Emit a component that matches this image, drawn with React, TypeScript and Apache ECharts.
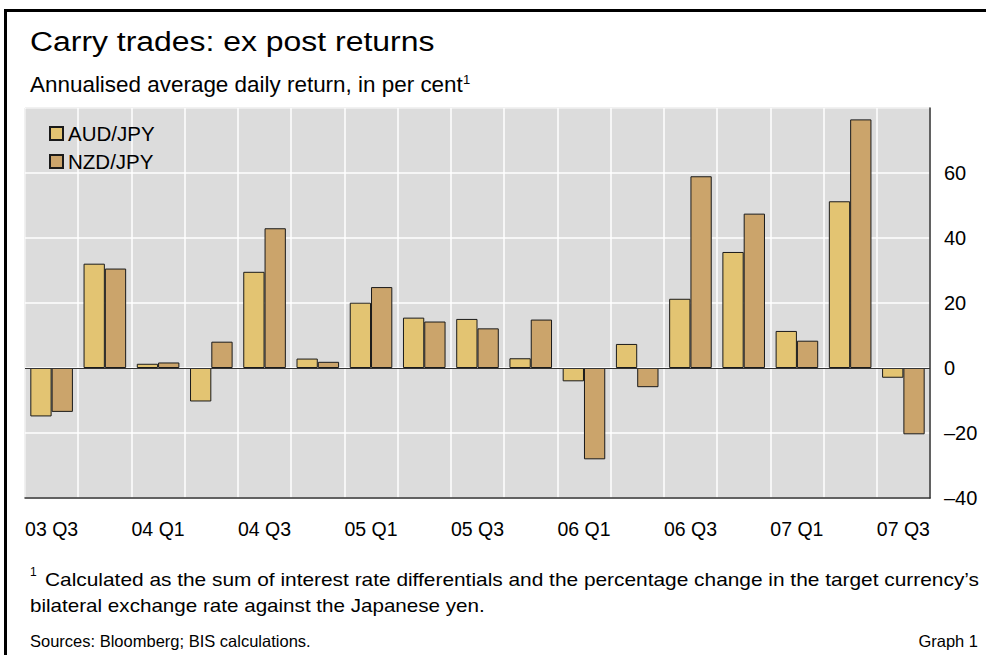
import React, { useEffect, useRef } from "react";
import * as echarts from "echarts";

const categories = [
  "03 Q3", "03 Q4", "04 Q1", "04 Q2", "04 Q3", "04 Q4", "05 Q1", "05 Q2", "05 Q3",
  "05 Q4", "06 Q1", "06 Q2", "06 Q3", "06 Q4", "07 Q1", "07 Q2", "07 Q3",
];
const audJpy = [-14.9, 32.1, 1.3, -10.3, 29.6, 2.9, 20.1, 15.5, 15.1, 3.0, -4.1, 7.4, 21.3, 35.7, 11.4, 51.3, -3.0];
const nzdJpy = [-13.5, 30.6, 1.7, 8.1, 43.0, 1.9, 24.9, 14.3, 12.2, 14.9, -28.1, -5.9, 59.0, 47.5, 8.4, 76.5, -20.4];
const yMin = -40;
const yMax = 80;
const yInterval = 20;

const FONT = "Arial, 'Liberation Sans', Helvetica, sans-serif";

export default function App() {
  const ref = useRef<HTMLDivElement>(null);
  useEffect(() => {
    if (!ref.current) return;
    const chart = echarts.init(ref.current, undefined, { renderer: "svg" });
    chart.setOption({
      animation: false,
      backgroundColor: "#ffffff",
      textStyle: { fontFamily: FONT },
      grid: {
        left: 25,
        top: 108,
        right: 56,
        bottom: 157,
        show: true,
        backgroundColor: "#dcdcdc",
        borderColor: "#8a8a8a",
        borderWidth: 1,
      },
      legend: {
        orient: "vertical",
        left: 44,
        top: 118,
        itemWidth: 13,
        itemHeight: 13,
        itemGap: 7,
        icon: "rect",
        textStyle: { fontFamily: FONT, fontSize: 20.5, color: "#000" },
        data: ["AUD/JPY", "NZD/JPY"],
      },
      xAxis: {
        type: "category",
        data: categories,
        boundaryGap: true,
        axisLine: { show: true, onZero: false, lineStyle: { color: "#333", width: 1.5 } },
        axisTick: { show: false },
        axisLabel: { interval: 1, margin: 21, fontSize: 19.5, color: "#000", fontFamily: FONT },
        splitLine: { show: true, interval: 0, lineStyle: { color: "#ffffff", width: 1.5 } },
      },
      yAxis: {
        type: "value",
        position: "right",
        min: yMin,
        max: yMax,
        interval: yInterval,
        axisLine: { show: true, lineStyle: { color: "#333", width: 1.5 } },
        axisTick: { show: false },
        axisLabel: {
          margin: 14,
          fontSize: 20,
          color: "#000",
          fontFamily: FONT,
          formatter: (v: number) => (v === yMax ? "" : String(v).replace("-", "\u2013")),
        },
        splitLine: { show: true, lineStyle: { color: "#ffffff", width: 1.5 } },
      },
      series: [
        {
          name: "AUD/JPY",
          type: "bar",
          data: audJpy,
          barGap: "0%",
          barCategoryGap: "20%",
          itemStyle: { color: "#e3c472", borderColor: "#1a1a1a", borderWidth: 1 },
          markLine: {
            silent: true,
            symbol: "none",
            label: { show: false },
            lineStyle: { color: "#333", width: 1.2, type: "solid" },
            data: [{ yAxis: 0 }],
          },
        },
        {
          name: "NZD/JPY",
          type: "bar",
          data: nzdJpy,
          barGap: "0%",
          barCategoryGap: "20%",
          itemStyle: { color: "#cba46b", borderColor: "#1a1a1a", borderWidth: 1 },
        },
      ],
      graphic: [
        {
          type: "rect",
          shape: { x: 5.5, y: 10.5, width: 1000, height: 700 },
          style: { fill: "none", stroke: "#000", lineWidth: 3 },
          silent: true,
        },
        {
          type: "text",
          x: 30,
          y: 41,
          scaleX: 1.14,
          style: { text: "Carry trades: ex post returns", fontSize: 28, fontFamily: FONT, fill: "#000", verticalAlign: "middle" },
        },
        {
          type: "text",
          x: 30,
          y: 85,
          scaleX: 1.02,
          style: { text: "Annualised average daily return, in per cent", fontSize: 22, fontFamily: FONT, fill: "#000", verticalAlign: "middle" },
        },
        {
          type: "text",
          x: 463,
          y: 79,
          style: { text: "1", fontSize: 13, fontFamily: FONT, fill: "#000", verticalAlign: "middle" },
        },
        {
          type: "text",
          x: 30,
          y: 572,
          style: { text: "1", fontSize: 12, fontFamily: FONT, fill: "#000", verticalAlign: "middle" },
        },
        {
          type: "text",
          x: 45,
          y: 580,
          scaleX: 1.193,
          style: {
            text: "Calculated as the sum of interest rate differentials and the percentage change in the target currency\u2019s",
            fontSize: 17.5,
            fontFamily: FONT,
            fill: "#000",
            verticalAlign: "middle",
          },
        },
        {
          type: "text",
          x: 30,
          y: 606,
          scaleX: 1.178,
          style: {
            text: "bilateral exchange rate against the Japanese yen.",
            fontSize: 17.5,
            fontFamily: FONT,
            fill: "#000",
            verticalAlign: "middle",
          },
        },
        {
          type: "text",
          x: 30,
          y: 641,
          style: { text: "Sources: Bloomberg; BIS calculations.", fontSize: 16.5, fontFamily: FONT, fill: "#000", verticalAlign: "middle" },
        },
        {
          type: "text",
          x: 978,
          y: 641,
          style: { text: "Graph 1", fontSize: 16.5, fontFamily: FONT, fill: "#000", align: "right", verticalAlign: "middle" },
        },
      ],
    });
    return () => chart.dispose();
  }, []);
  return (
    <div
      ref={ref}
      style={{ position: "absolute", left: 0, top: 0, width: 986, height: 655 }}
    />
  );
}
